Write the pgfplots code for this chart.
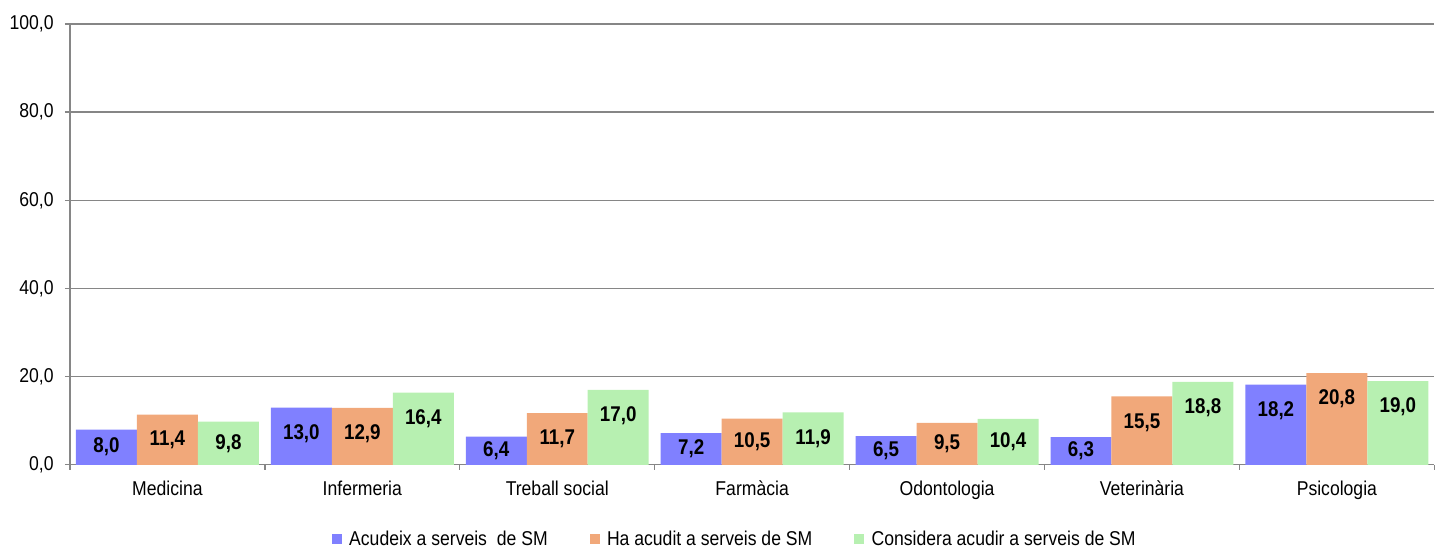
\documentclass[border=0pt]{standalone}
\usepackage{fontspec}
\setmainfont{Liberation Sans}[FakeStretch=0.88]
\usepackage{pgfplots}
\pgfplotsset{compat=1.18}
\definecolor{cBlue}{RGB}{128,128,255}
\definecolor{cOrange}{RGB}{241,168,122}
\definecolor{cGreen}{RGB}{183,240,177}
\definecolor{cAxis}{RGB}{134,134,134}
\newcommand{\tickfont}{\fontsize{15}{18}\selectfont}
\begin{document}
\begin{tikzpicture}
\begin{axis}[
    scale only axis,
    width=1023.75pt, height=330.75pt,
    ybar=0pt, bar width=45.75pt,
    xmin=-0.5, xmax=6.5, ymin=0, ymax=100,
    xtick={0,...,6},
    xticklabels={Medicina,Infermeria,Treball social,Farmàcia,Odontologia,Veterinària,Psicologia},
    minor xtick={-0.5,0.5,...,6.5},
    ytick={0,20,...,100},
    axis x line*=bottom, axis y line*=left,
    axis line style={cAxis, line width=1pt},
    ymajorgrids, grid style={cAxis, line width=1pt},
    tick align=outside,
    major tick length=3.75pt, minor tick length=3.75pt,
    major x tick style={draw=none},
    minor x tick style={cAxis, line width=1pt},
    ytick style={cAxis, line width=1pt},
    tick label style={font=\tickfont},
    yticklabel style={xshift=-5pt, /pgf/number format/.cd, fixed, fixed zerofill, precision=1, use comma},
    xticklabel style={yshift=-5pt},
    /pgf/number format/assume math mode=true,
    nodes near coords,
    visualization depends on={y \as \rawy},
    every node near coord/.append style={font=\bfseries\fontsize{16}{19}\selectfont, anchor=center,
        shift={(axis direction cs:0,{-min(\rawy/2,5.9)})},
        /pgf/number format/fixed, /pgf/number format/fixed zerofill,
        /pgf/number format/precision=1, /pgf/number format/use comma},
    legend style={at={(0.4875,-0.168)}, anchor=center, draw=none, font=\tickfont,
        legend columns=3, /tikz/every even column/.append style={column sep=29.5pt}},
    legend image code/.code={\fill[#1] (0pt,-3.75pt) rectangle (7.5pt,3.75pt); \path (11pt,0pt);},
    clip=false,
]
\addplot[fill=cBlue, draw=none] coordinates {
    (0,8.0) (1,13.0) (2,6.4) (3,7.2) (4,6.5) (5,6.3) (6,18.2)};
\addlegendentry{Acudeix a serveis\ \ de SM}
\addplot[fill=cOrange, draw=none] coordinates {
    (0,11.4) (1,12.9) (2,11.7) (3,10.5) (4,9.5) (5,15.5) (6,20.8)};
\addlegendentry{Ha acudit a serveis de SM}
\addplot[fill=cGreen, draw=none] coordinates {
    (0,9.8) (1,16.4) (2,17.0) (3,11.9) (4,10.4) (5,18.8) (6,19.0)};
\addlegendentry{Considera acudir a serveis de SM}
\path (rel axis cs:0,0) ++(-52.5pt,-62.25pt);
\path (rel axis cs:1,1) ++(0pt,18pt);
\end{axis}
\end{tikzpicture}
\end{document}
